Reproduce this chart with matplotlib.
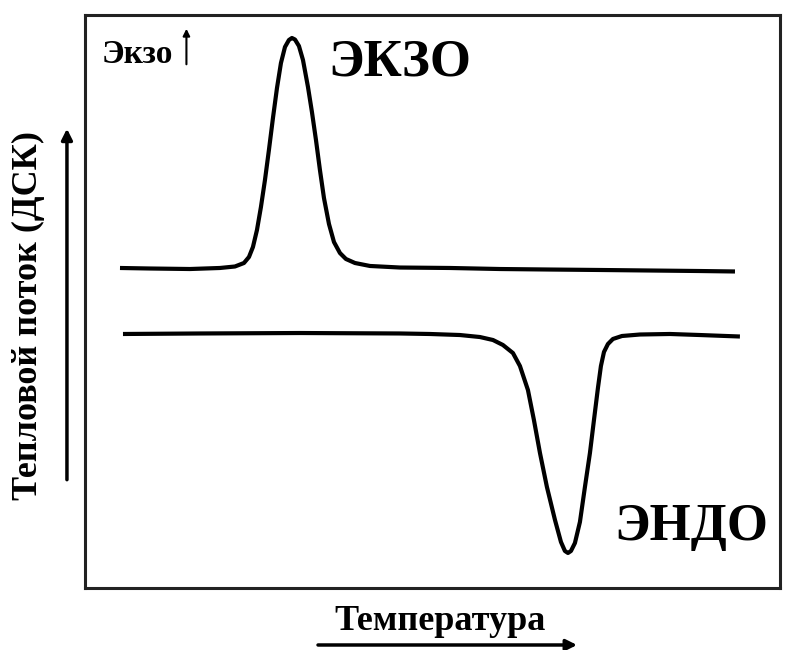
import matplotlib.pyplot as plt

# exothermic run: temperature (arb. units) vs heat flow (arb. units)
exo_temp = [5.04, 9.35, 15.11, 19.42, 21.58, 22.88, 23.60, 24.17, 24.75, 25.32,
            25.90, 26.47, 27.05, 27.63, 28.20, 28.78, 29.35, 29.78, 30.22, 30.79,
            31.37, 32.09, 32.66, 33.24, 33.81, 34.39, 35.11, 35.83, 36.69, 37.55,
            38.85, 41.01, 45.32, 52.52, 59.71, 66.91, 74.10, 81.29, 88.49, 93.53]
exo_flow = [55.85, 55.76, 55.67, 55.85, 56.11, 56.72, 57.77, 59.51, 62.48, 66.49,
            71.20, 76.44, 82.02, 87.26, 91.62, 94.42, 95.64, 95.99, 95.72, 94.59,
            92.15, 87.43, 83.07, 78.18, 72.95, 68.06, 63.53, 60.38, 58.46, 57.42,
            56.72, 56.20, 55.93, 55.85, 55.67, 55.58, 55.50, 55.41, 55.32, 55.24]

# endothermic run
endo_temp = [5.47, 16.55, 30.94, 45.32, 49.64, 53.96, 56.83, 58.71, 60.14, 61.58,
             62.59, 63.74, 64.60, 65.47, 66.47, 67.63, 68.49, 69.06, 69.50, 69.93,
             70.50, 71.22, 71.94, 72.66, 73.24, 73.81, 74.24, 74.68, 75.25, 75.97,
             77.27, 79.86, 84.17, 88.49, 94.24]
endo_flow = [44.33, 44.42, 44.50, 44.42, 44.33, 44.15, 43.80, 43.28, 42.41, 41.01,
             38.74, 34.55, 29.32, 23.56, 17.63, 11.87, 8.03, 6.46, 6.11, 6.46,
             7.85, 11.52, 17.63, 23.56, 29.32, 34.90, 38.74, 41.19, 42.58, 43.46,
             43.98, 44.24, 44.33, 44.15, 43.89]

serif = ["Liberation Serif", "DejaVu Serif"]

fig = plt.figure(figsize=(7.97, 6.5), dpi=100)
ax = fig.add_axes([0.1066, 0.0954, 0.872, 0.8815])

ax.plot(exo_temp, exo_flow, color="black", lw=3, solid_capstyle="butt")
ax.plot(endo_temp, endo_flow, color="black", lw=3, solid_capstyle="butt")

ax.set_xlim(0, 100)
ax.set_ylim(0, 100)
ax.set_xticks([])
ax.set_yticks([])
for sp in ax.spines.values():
    sp.set_linewidth(2.2)
    sp.set_color("#222222")

ax.text(45.3, 89.5, "ЭКЗО", family=serif, weight="bold", fontsize=38,
        ha="center", va="baseline")
ax.text(87.2, 8.4, "ЭНДО", family=serif, weight="bold", fontsize=38,
        ha="center", va="baseline")
ax.text(2.45, 91.6, "Экзо", family=serif, weight="bold", fontsize=24,
        ha="left", va="baseline")
ax.annotate("", xy=(14.6, 97.6), xytext=(14.6, 91.4),
            arrowprops=dict(arrowstyle="-|>", lw=1.5, color="black",
                            mutation_scale=10, shrinkA=0, shrinkB=0))

fig.text(0.036, 0.515, "Тепловой поток (ДСК)", family=serif, weight="bold",
         fontsize=26, rotation=90, ha="center", va="center")
fig.text(0.552, 0.031, "Температура", family=serif, weight="bold",
         fontsize=26, ha="center", va="baseline")

# axis direction arrows outside the frame
fig.add_artist(plt.Annotation("", xy=(0.084, 0.802), xytext=(0.084, 0.262),
                              xycoords="figure fraction",
                              arrowprops=dict(arrowstyle="-|>", lw=2.5, color="black",
                                              mutation_scale=16, shrinkA=0, shrinkB=0)))
fig.add_artist(plt.Annotation("", xy=(0.724, 0.0077), xytext=(0.399, 0.0077),
                              xycoords="figure fraction",
                              arrowprops=dict(arrowstyle="-|>", lw=2.5, color="black",
                                              mutation_scale=16, shrinkA=0, shrinkB=0)))

fig.savefig("out.png", dpi=100)
